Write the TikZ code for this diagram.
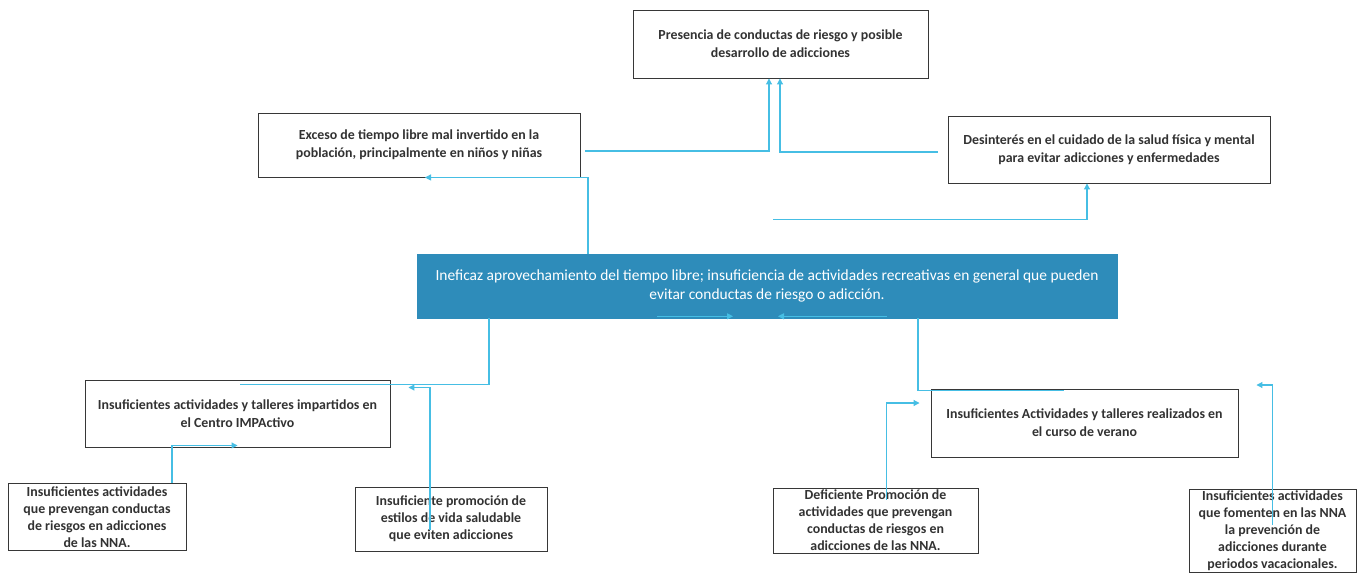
\documentclass[tikz,border=0pt]{standalone}
\usepackage{fontspec}
\setmainfont{Carlito}
\usetikzlibrary{arrows.meta,calc}
\definecolor{linkc}{RGB}{70,190,228}
\definecolor{cboxc}{RGB}{46,140,186}
\definecolor{edgec}{RGB}{55,55,55}
\definecolor{textc}{RGB}{50,50,50}
\begin{document}
\begin{tikzpicture}[x=0.75pt,y=-0.75pt,
 box/.style={draw=edgec,line width=0.7pt,align=center,inner sep=1pt,
   font=\fontsize{10.4}{13.4}\selectfont\bfseries,text=textc},
 smallbox/.style={box,font=\fontsize{10.4}{12.8}\selectfont\bfseries},
 mainbox/.style={fill=cboxc,draw=cboxc,align=center,inner sep=1pt,
   font=\fontsize{11.6}{14.2}\selectfont,text=white},
 link/.style={draw=linkc,line width=0.8pt},
 tip/.style={-{Triangle[width=4.5pt,length=4.5pt]}}
]
\useasboundingbox[fill=white] (0,0) rectangle (1365,576);

\node[box,minimum width=221.25pt,minimum height=51pt] (top) at (780.5,44)
  {Presencia de conductas de riesgo y posible\\desarrollo de adicciones};
\node[box,minimum width=241.5pt,minimum height=48pt] (exceso) at (419,145)
  {Exceso de tiempo libre mal invertido en la\\población, principalmente en niños y niñas};
\node[box,minimum width=241.5pt,minimum height=50.25pt] (desint) at (1109,149.5)
  {Desinterés en el cuidado de la salud física y mental\\para evitar adicciones y enfermedades};
\node[mainbox,minimum width=525pt,minimum height=48pt] (central) at (767,286)
  {Ineficaz aprovechamiento del tiempo libre; insuficiencia de actividades recreativas en general que pueden\\evitar conductas de riesgo o adicción.};
\node[box,minimum width=228.75pt,minimum height=50.25pt] (left) at (237.5,413.5)
  {Insuficientes actividades y talleres impartidos en\\el Centro IMPActivo};
\node[box,minimum width=230.25pt,minimum height=51pt] (right) at (1084.5,423)
  {Insuficientes Actividades y talleres realizados en\\el curso de verano};
\node[smallbox,minimum width=133.5pt,minimum height=50.25pt] (bl1) at (97,517)
  {Insuficientes actividades\\que prevengan conductas\\de riesgos en adicciones\\de las NNA.};
\node[smallbox,minimum width=144pt,minimum height=48pt] (bl2) at (451,519)
  {Insuficiente promoción de\\estilos de vida saludable\\que eviten adicciones};
\node[smallbox,minimum width=153.75pt,minimum height=48.75pt] (br1) at (875.5,520.5)
  {Deficiente Promoción de\\actividades que prevengan\\conductas de riesgos en\\adicciones de las NNA.};
\node[smallbox,minimum width=125.25pt,minimum height=62.25pt] (br2) at (1272.5,531)
  {Insuficientes actividades\\que fomenten en las NNA\\la prevención de\\adicciones durante\\periodos vacacionales.};

\coordinate (c1) at ($(central.north)+(6,-34)$);

\draw[link,tip] ($(exceso.east)+(5,6)$) -| ($(top.south)+(-11.5,0)$);
\draw[link,tip] ($(desint.west)+(-10,2.5)$) -| ($(top.south)+(-0.5,0)$);
\draw[link,tip] ($(central.north)+(-179,0)$) |- ($(exceso.south)+(6,0)$);
\draw[link,tip] (c1) -| ($(desint.south)+(-22,0)$);
\draw[link,tip] ($(central.south)+(-110,-2)$) -- ($(central.south)+(-34,-2)$);
\draw[link,tip] ($(central.south)+(120,-2)$) -- ($(central.south)+(11,-2)$);
\draw[link] ($(central.south)+(-278,0)$) |- ($(left.north)+(2.5,5)$);
\draw[link,tip] ($(bl2.north)+(-21,43)$) |- ($(left.east)+(18,-26)$);
\draw[link,tip] ($(bl1.north)+(75,0)$) |- ($(left.south)+(0,-2)$);
\draw[link] ($(central.south)+(151,0)$) |- ($(right.north)+(-21,2)$);
\draw[link,tip] ($(br1.north)+(11,12)$) |- ($(right.west)+(-11,-20)$);
\draw[link,tip] ($(br2.north)+(0,36)$) |- ($(right.east)+(18,-38)$);
\end{tikzpicture}
\end{document}
